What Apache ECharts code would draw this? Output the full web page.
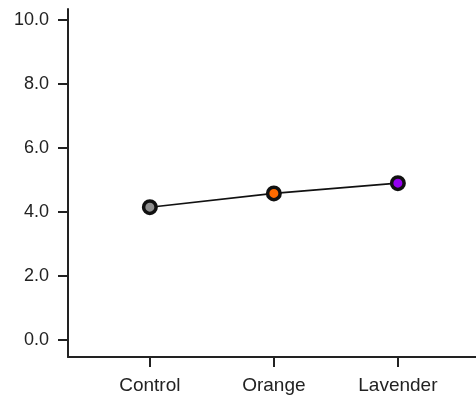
<!DOCTYPE html>
<html>
<head>
<meta charset="utf-8">
<script src="https://cdn.jsdelivr.net/npm/echarts@6/dist/echarts.min.js"></script>
<style>html,body{margin:0;padding:0;background:#fff;}#c{width:476px;height:396px;}</style>
</head>
<body>
<div id="c"></div>
<script>
const categories = ['Control', 'Orange', 'Lavender'];
const values = [4.15, 4.58, 4.90];
const pointColors = ['#8f8f8f', '#ff6a00', '#9400f0'];
const yTicks = [0, 2, 4, 6, 8, 10];

const chart = echarts.init(document.getElementById('c'), null, {renderer: 'canvas'});
const data = values.map((v, i) => ({
  value: [i, v],
  itemStyle: {color: pointColors[i]}
}));
chart.setOption({
  animation: false,
  grid: {left: 68, right: 0, top: 9, bottom: 39, containLabel: false},
  xAxis: {
    type: 'value',
    min: -0.66, max: 2.63,
    splitLine: {show: false},
    axisLine: {show: true, onZero: false, lineStyle: {color: '#222', width: 2}},
    axisTick: {show: true, length: 10, customValues: [0, 1, 2], lineStyle: {color: '#222', width: 2}},
    axisLabel: {
      customValues: [0, 1, 2],
      formatter: v => categories[Math.round(v)],
      color: '#222', fontSize: 19, fontFamily: 'Liberation Sans, Arial, sans-serif', margin: 19
    }
  },
  yAxis: {
    type: 'value',
    min: -0.53, max: 10.34,
    splitLine: {show: false},
    axisLine: {show: true, onZero: false, lineStyle: {color: '#222', width: 2}},
    axisTick: {show: true, length: 10, customValues: yTicks, lineStyle: {color: '#222', width: 2}},
    axisLabel: {
      customValues: yTicks,
      formatter: v => v.toFixed(1),
      color: '#222', fontSize: 18, fontFamily: 'Liberation Sans, Arial, sans-serif', margin: 19
    }
  },
  series: [{
    type: 'line',
    data: data,
    symbol: 'circle',
    symbolSize: 12.5,
    lineStyle: {color: '#111', width: 1.6},
    itemStyle: {borderColor: '#111', borderWidth: 3.5},
    z: 5
  }]
});
</script>
</body>
</html>
